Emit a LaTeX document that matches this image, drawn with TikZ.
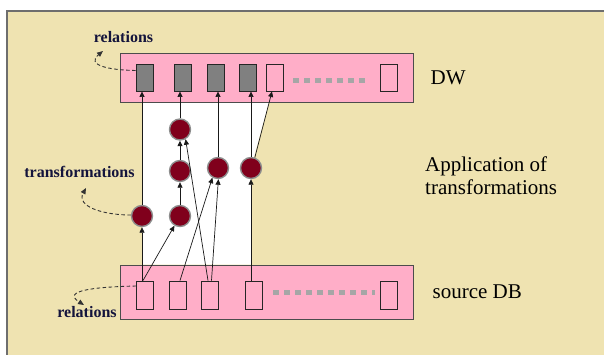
\documentclass[tikz,border=0pt]{standalone}
\usepackage{fontspec}
\setmainfont{Liberation Serif}
\usetikzlibrary{arrows.meta,positioning,backgrounds}
\definecolor{Sand}{HTML}{EFE3B1}
\definecolor{Blush}{HTML}{FFAEC8}
\definecolor{Maroon}{HTML}{80001C}
\definecolor{Ink}{HTML}{14143C}
\definecolor{FrameGray}{HTML}{6E6E6E}

\begin{document}
\begin{tikzpicture}[x=1pt, y=-1pt,
    dbbox/.style={draw=black!70, fill=Blush, line width=0.9pt, inner sep=0pt, minimum width=293pt},
    rel/.style={draw=black!85, fill=Blush, line width=0.9pt, inner sep=0pt, minimum width=17pt, minimum height=27pt},
    relfull/.style={rel, fill=black!50},
    trf/.style={circle, draw=black!45, fill=Maroon, line width=1.4pt, inner sep=0pt, minimum size=21pt},
    arrow/.style={-{Triangle[length=5.5pt, width=5pt]}, line width=0.7pt, color=black!90},
    darrow/.style={-{Triangle[length=6pt, width=5pt]}, line width=0.9pt, color=black!80, dash pattern=on 3.5pt off 2.5pt},
    dots/.style={line width=5pt, color=black!35, dash pattern=on 5.5pt off 5.5pt},
    note/.style={font=\fontsize{16}{18}\selectfont\bfseries, text=Ink, inner sep=0pt},
    lbl/.style={font=\fontsize{21}{23}\selectfont, inner sep=0pt, align=left}
  ]
    \useasboundingbox (0,0) rectangle (604,354);

    % the two databases
    \node[dbbox, minimum height=49pt] (dw) at (266.5,77.5) {};
    \node[dbbox, minimum height=54pt] (src) at (266.5,292) {};

    \node[relfull] (dwA) at (144.5,77.5) {};
    \node[relfull] (dwB) at (182.5,77.5) {};
    \node[relfull] (dwC) at (215.5,77.5) {};
    \node[relfull] (dwD) at (247.5,77.5) {};
    \node[rel] (dwE) at (274.5,77.5) {};
    \node[rel] (dwZ) at (388.5,77.5) {};
    \draw[dots] ([shift={(10pt,-3pt)}]dwE.east) -- ([shift={(-10pt,-3pt)}]dwZ.west);

    \node[rel, minimum height=28pt] (srcA) at (145,295) {};
    \node[rel, minimum height=28pt] (srcB) at (177.5,295) {};
    \node[rel, minimum height=28pt] (srcC) at (209.5,295) {};
    \node[rel, minimum height=28pt] (srcD) at (253.5,295) {};
    \node[rel, minimum height=28pt] (srcZ) at (388.5,295) {};
    \draw[dots] ([shift={(11pt,3pt)}]srcD.east) -- ([shift={(-5pt,3pt)}]srcZ.west);

    % transformations
    \node[trf] (tA) at (142,216) {};
    \node[trf] (tB1) at (180,216) {};
    \node[trf] (tB2) at (180,171) {};
    \node[trf] (tB3) at (180,129.5) {};
    \node[trf] (tC) at (218,168) {};
    \node[trf] (tD) at (251,168) {};

    \draw[arrow] (srcA.north -| tA) -- (tA);
    \draw[arrow] (tA) -- (dwA.south -| tA);
    \draw[arrow] ([xshift=-2pt]srcA.north) -- (tB1);
    \draw[arrow] (tB1) -- (tB2);
    \draw[arrow] (tB2) -- (tB3);
    \draw[arrow] (tB3) -- (dwB.south -| tB3);
    \draw[arrow] ([xshift=2.5pt]srcB.north) -- (tC.240);
    \draw[arrow] ([xshift=2pt]srcC.north) -- (tC.272);
    \draw[arrow] ([xshift=-1.5pt]srcC.north) -- (tB3.-60);
    \draw[arrow] (tC) -- (dwC.south -| tC);
    \draw[arrow] (srcD.north -| tD) -- (tD);
    \draw[arrow] (tD) -- (dwD.south -| tD);
    \draw[arrow] (tD.70) -- ([xshift=-2.5pt]dwE.south);

    % notes
    \node[note, anchor=base] (relTop) at (123.5,42) {relations};
    \node[note, anchor=base] (trfNote) at (79.5,177) {transformations};
    \node[note, anchor=base] (relBot) at (87,317) {relations};
    \coordinate (relTopTip) at (103,51);
    \coordinate (trfTip) at (86,188);
    \coordinate (relBotTip) at (84,305);
    \draw[darrow] ([yshift=7pt]dwA.west) .. controls (108,70) and (86,65) .. (relTopTip);
    \draw[darrow] (tA.175) .. controls (102,215) and (76,206) .. (trfTip);
    \draw[darrow] ([yshift=9pt]srcA.west) .. controls (92,287) and (62,291) .. (relBotTip);

    \node[lbl, right=17pt of dw] (dwLbl) {DW};
    \node[lbl, anchor=north west] (appLbl) at (425,156.5) {Application of\\transformations};
    \node[lbl, right=19pt of src] (srcLbl) {source DB};

    \begin{scope}[on background layer]
      \draw[fill=Sand, draw=FrameGray, line width=1.6pt] (7,11) rectangle (640,380);
      \coordinate (wTop) at (269,102);
      \fill[white] (dw.south -| tA) -- (wTop) -- (tD.center) -- (src.north -| tD) -- (src.north -| tA) -- cycle;
    \end{scope}
  \end{tikzpicture}
\end{document}
